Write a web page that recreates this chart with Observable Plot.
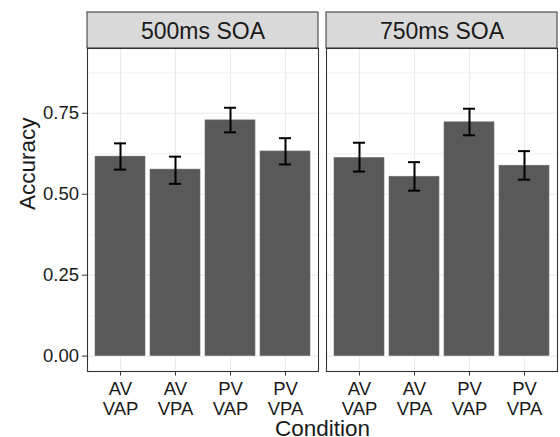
<!DOCTYPE html>
<html>
<head>
<meta charset="utf-8">
<script src="https://cdn.jsdelivr.net/npm/d3@7"></script>
<script src="https://cdn.jsdelivr.net/npm/@observablehq/plot@0.6"></script>
<style>
  html, body { margin: 0; padding: 0; background: #fff; overflow: hidden; }
  #wrap { position: relative; width: 560px; height: 437px; font-family: "Liberation Sans", Arial, sans-serif; }
  #xlabel { position: absolute; left: 87px; width: 471px; top: 418px; text-align: center;
            font-size: 22.5px; line-height: 22px; color: #1a1a1a; }
</style>
</head>
<body>
<div id="wrap"><div id="chart"></div><div id="xlabel">Condition</div></div>
<script>
const soaLevels = ["500ms SOA", "750ms SOA"];
const conditions = ["AV VAP", "AV VPA", "PV VAP", "PV VPA"];
const acc500 = [0.616, 0.576, 0.728, 0.632];
const lo500  = [0.576, 0.532, 0.691, 0.592];
const hi500  = [0.657, 0.616, 0.767, 0.673];
const acc750 = [0.612, 0.554, 0.722, 0.588];
const lo750  = [0.570, 0.511, 0.682, 0.545];
const hi750  = [0.659, 0.599, 0.764, 0.633];
const yTicks = [0, 0.25, 0.5, 0.75];
const yMinor = [0.125, 0.375, 0.625, 0.875];

const rows = [];
conditions.forEach((c, i) => {
  rows.push({soa: soaLevels[0], cond: c, acc: acc500[i], lo: lo500[i], hi: hi500[i]});
});
conditions.forEach((c, i) => {
  rows.push({soa: soaLevels[1], cond: c, acc: acc750[i], lo: lo750[i], hi: hi750[i]});
});

const W = 560, H = 437, mT = 48, mB = 66, mL = 87, mR = 2;
const frameH = H - mT - mB;
const stripH = 36;
const capInset = 19;

const chart = Plot.plot({
  width: W, height: H,
  marginTop: mT, marginBottom: mB, marginLeft: mL, marginRight: mR,
  style: {fontFamily: '"Liberation Sans", Arial, sans-serif', background: "#fff", color: "#1a1a1a"},
  fx: {domain: soaLevels, paddingInner: 0.0334, paddingOuter: 0, axis: null, label: null},
  x: {domain: conditions, paddingInner: 0.1, paddingOuter: 0.15, axis: null, label: null},
  y: {domain: [-0.0475, 0.95], axis: null, label: null},
  marks: [
    // strips
    Plot.rect(soaLevels, {fx: d => d, fill: "#d9d9d9", stroke: "#333", strokeWidth: 1,
      insetTop: -stripH, insetBottom: frameH}),
    Plot.text(soaLevels, {fx: d => d, text: d => d, frameAnchor: "top", lineAnchor: "middle", dy: -17,
      fontSize: 23, fill: "#1a1a1a"}),
    // grid
    Plot.gridY({ticks: yMinor, stroke: "#ebebeb", strokeOpacity: 1, strokeWidth: 0.6}),
    Plot.gridY({ticks: yTicks, stroke: "#ebebeb", strokeOpacity: 1, strokeWidth: 1.1}),
    Plot.gridX({stroke: "#ebebeb", strokeOpacity: 1, strokeWidth: 1.1}),
    // bars
    Plot.barY(rows, {fx: "soa", x: "cond", y: "acc", fill: "#595959", stroke: "#707070", strokeWidth: 0.6}),
    // error bars
    Plot.ruleX(rows, {fx: "soa", x: "cond", y1: "lo", y2: "hi", stroke: "#000", strokeWidth: 2}),
    Plot.tickY(rows, {fx: "soa", x: "cond", y: "lo", stroke: "#000", strokeWidth: 2, insetLeft: capInset, insetRight: capInset}),
    Plot.tickY(rows, {fx: "soa", x: "cond", y: "hi", stroke: "#000", strokeWidth: 2, insetLeft: capInset, insetRight: capInset}),
    // panel border
    Plot.frame({stroke: "#333", strokeWidth: 1.1}),
    // axes
    Plot.axisY({ticks: yTicks, tickFormat: d3.format(".2f"), tickSize: 5, tickPadding: 3.5,
      fontSize: 18.5, stroke: "#333", fill: "#1a1a1a", label: null}),
    Plot.axisX({tickSize: 4.5, tickPadding: 4.5, fontSize: 18.5, lineHeight: 1.1,
      stroke: "#333", fill: "#1a1a1a", label: null,
      tickFormat: d => d.replace(" ", "\n")}),
    Plot.text(["Accuracy"], {fx: [soaLevels[0]], text: d => d, frameAnchor: "left", rotate: -90,
      dx: -60, fontSize: 22.5, fill: "#1a1a1a"})
  ]
});
document.getElementById("chart").appendChild(chart);
</script>
</body>
</html>
